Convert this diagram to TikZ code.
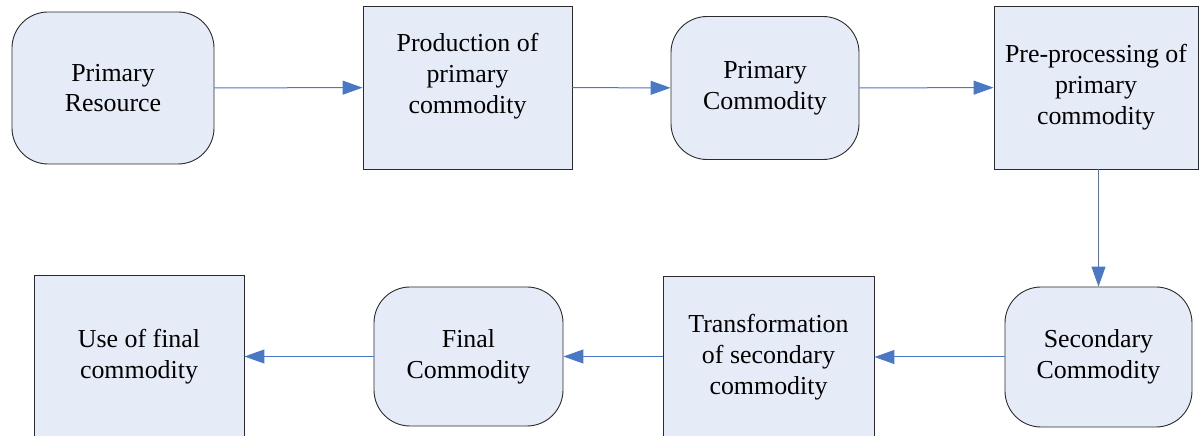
\documentclass[tikz,border=0pt]{standalone}
\usepackage{fontspec}
\setmainfont{Liberation Serif}
\newfontfamily\labelfont{Liberation Serif}
\usetikzlibrary{arrows.meta}
\definecolor{boxfill}{HTML}{E6ECF7}
\definecolor{boxline}{HTML}{2B2B2B}
\definecolor{flow}{HTML}{4A78C4}
\tikzset{
  stage/.style={draw=boxline, line width=0.9bp, fill=boxfill, inner sep=0pt,
    align=center, font=\labelfont\fontsize{26}{31}\selectfont},
  stock/.style={stage, rounded corners=36bp},
  caption/.style={inner sep=0pt, align=center,
    font=\labelfont\fontsize{26}{31}\selectfont},
  flowarrow/.style={draw=flow, line width=1bp,
    -{Triangle[length=20bp, width=14bp]}},
}
\begin{document}
\begin{tikzpicture}[x=1bp, y=-1bp]
\useasboundingbox (0,0) rectangle (1203,436);
\clip (0,0) rectangle (1203,436);
% top row
\node[stock, minimum width=202bp, minimum height=152bp] (pr) at (113,88)
  {Primary\\Resource};
\node[stage, minimum width=209bp, minimum height=163bp] (prod) at (467.5,87.5) {};
\node[caption] (prodtext) at ([yshift=11bp]prod.center)
  {Production of\\primary\\commodity};
\node[stock, minimum width=188bp, minimum height=143bp] (pc) at (765,88)
  {Primary\\Commodity};
\node[stage, minimum width=204bp, minimum height=163bp] (pre) at (1096,87.5)
  {Pre-processing of\\primary\\commodity};
% bottom row
\node[stock, minimum width=187bp, minimum height=140bp] (sc) at (1098.5,357)
  {Secondary\\Commodity};
\node[stage, minimum width=211bp, minimum height=163bp] (tr) at (768.5,357.5)
  {Transformation\\of secondary\\commodity};
\node[stock, minimum width=189bp, minimum height=139bp] (fc) at (468.5,356.5)
  {Final\\Commodity};
\node[stage, minimum width=210bp, minimum height=163bp] (use) at (139,356.5)
  {Use of final\\commodity};
% flows
\draw[flowarrow] (pr) -- (prod);
\draw[flowarrow] (prod) -- (pc);
\draw[flowarrow] (pc) -- (pre);
\draw[flowarrow] (pre.south -| sc.north) -- (sc.north);
\draw[flowarrow] (sc) -- (sc -| tr.east);
\draw[flowarrow] (tr.west |- fc) -- (fc);
\draw[flowarrow] (fc) -- (fc -| use.east);
\end{tikzpicture}
\end{document}
